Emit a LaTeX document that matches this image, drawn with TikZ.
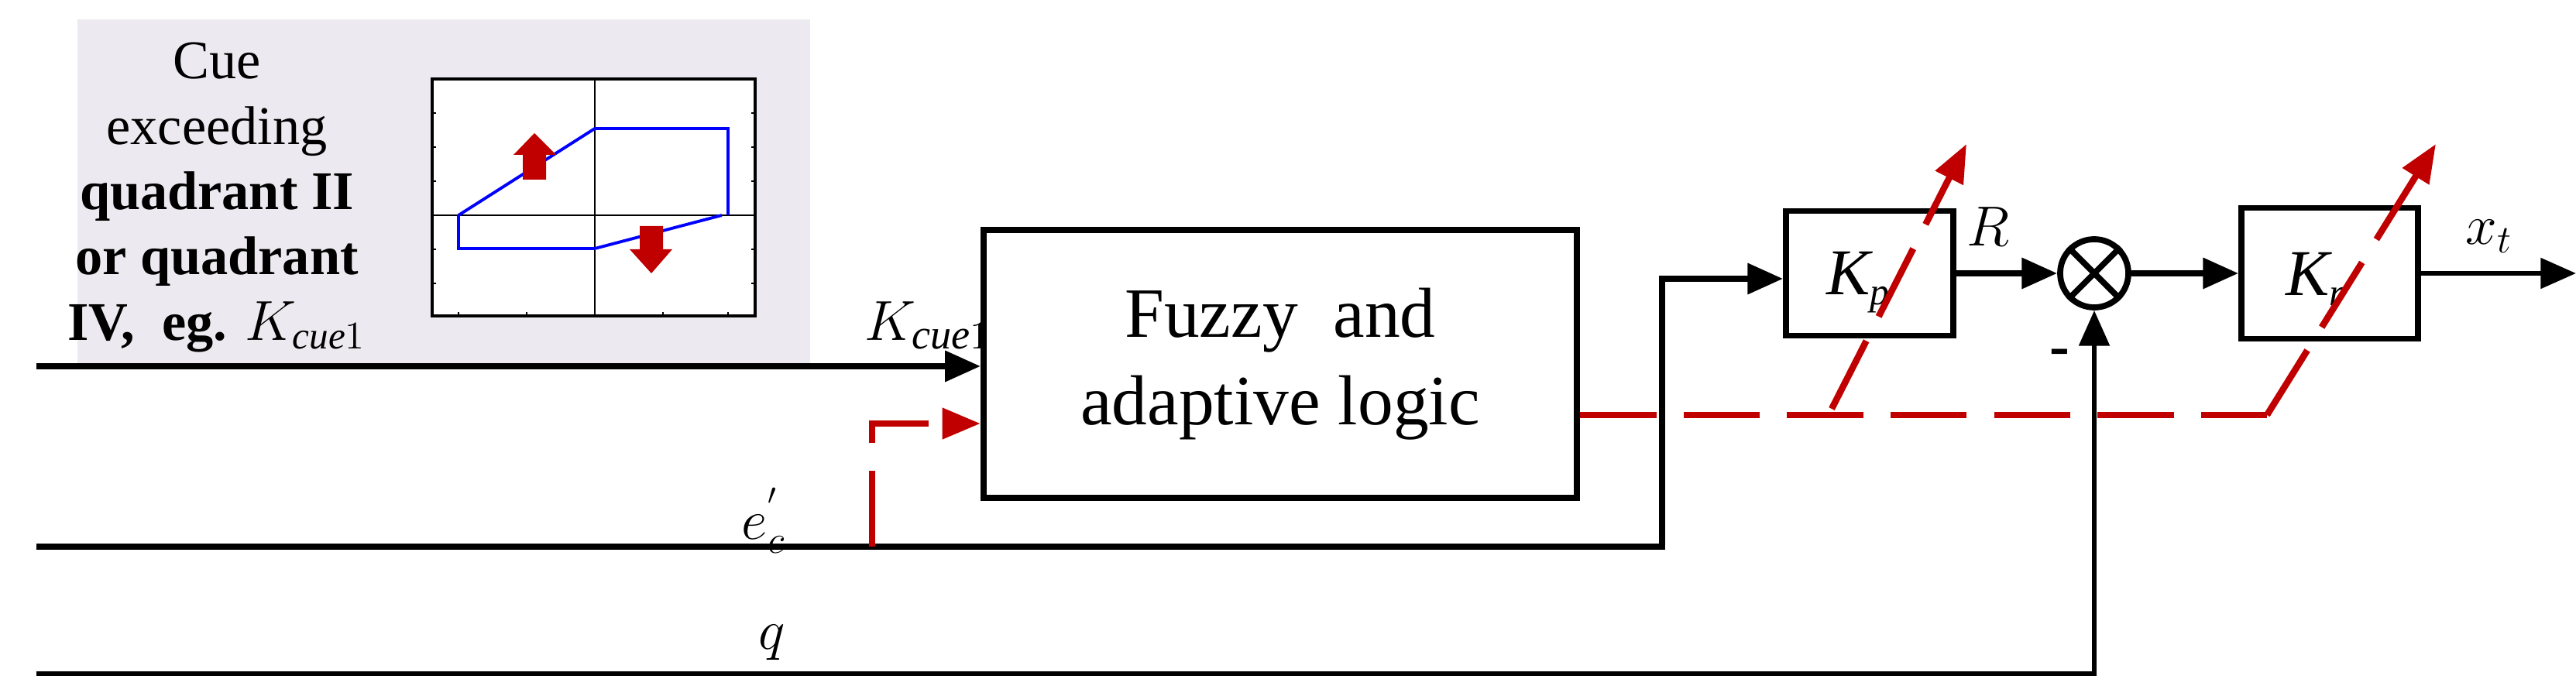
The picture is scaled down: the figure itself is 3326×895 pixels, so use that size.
\documentclass[tikz,border=0pt]{standalone}
\usepackage{fontspec}
\setmainfont{Liberation Serif}
\usetikzlibrary{arrows.meta}
\definecolor{dred}{RGB}{192,0,0}
\definecolor{bgray}{RGB}{236,234,240}
\begin{document}
\begin{tikzpicture}[x=0.01cm,y=-0.01cm,
  blk/.style={draw,line width=2.2pt,inner sep=0},
  sig/.style={line width=2.2pt,-{Triangle[length=13pt,width=11pt]}},
  red/.style={dred,line width=2.4pt,dash pattern=on 28pt off 10pt},
  redarr/.style={red,-{Triangle[length=14pt,width=11pt]}},
  lbl/.style={font=\fontsize{22}{26}\selectfont\itshape}]
\useasboundingbox (0,0) rectangle (3326,895);
% inset
\fill[bgray] (100,25) rectangle (1046,471);
\node[align=center,font=\fontsize{20}{24}\selectfont] (cue) at (280,255)
 {Cue\\exceeding\\\textbf{quadrant II}\\\textbf{or quadrant}\\\textbf{IV,\ \ eg.} $K_{\mathit{cue}1}$};
\fill[white] (558,102) rectangle (975,408);
\draw[line width=1pt] (558,102) rectangle (975,408);
\draw[line width=0.8pt] (768,102) -- (768,408) (558,278) -- (975,278);
\foreach \y in {102,146,190,234,278,322,366}{\draw (558,\y)--(563,\y) (975,\y)--(970,\y);}
\foreach \x in {592,680,768,856,940}{\draw (\x,408)--(\x,403);}
\draw[blue,line width=1.1pt] (592,278) -- (768,166) -- (940,166) -- (940,278);
\draw[blue,line width=1.1pt] (592,278) -- (592,321) -- (768,321) -- (932,278);
\fill[dred] (675,232) -- (675,200) -- (663,200) -- (690,172) -- (718,200) -- (705,200) -- (705,232) -- cycle;
\fill[dred] (826,292) -- (856,292) -- (856,322) -- (868,322) -- (841,353) -- (813,322) -- (826,322) -- cycle;
% blocks
\node[blk,minimum width=7.66cm,minimum height=3.46cm,font=\fontsize{26}{32}\selectfont,align=center] (fz) at (1653,470) {Fuzzy\ \ and\\adaptive logic};
\node[blk,minimum width=2.16cm,minimum height=1.61cm] (kp) at (2414,353) {};
\node[lbl,font=\fontsize{24}{28}\selectfont\itshape] at (2400,365) {K\textsubscript{\fontsize{14}{16}\selectfont p}};
\node[blk,minimum width=2.28cm,minimum height=1.69cm] (kr) at (3008,353) {};
\node[lbl,font=\fontsize{24}{28}\selectfont\itshape] at (2990,360) {K\textsubscript{\fontsize{14}{16}\selectfont r}};
\node[draw,circle,line width=2.2pt,minimum size=0.88cm,inner sep=0] (sum) at (2704,353) {};
\draw[line width=2.2pt] (sum.north west)--(sum.south east) (sum.north east)--(sum.south west);
% signals
\coordinate (a) at (47,473);
\draw[sig] (a) -- (fz.west |- a);
\node[lbl] at (1198,420) {$K_{\mathit{cue}1}$};
\coordinate (b) at (47,706);
\coordinate (b1) at (2146,706);
\draw[sig] (b) -- (b1) -- (2146,360) -- (kp.west |- 0,360);
\node[lbl] at (986,672) {$e_c^{'}$};
\coordinate (c) at (47,870);
\draw[sig,line width=1.8pt] (c) -- (sum.south |- c) -- (sum.south);
\node[lbl] at (997,830) {$q$};
\draw[sig] (kp.east |- sum) -- (sum.west);
\node[lbl] at (2567,293) {$R$};
\draw[sig] (sum.east) -- (kr.west);
\draw[sig,line width=1.8pt] (kr.east) -- (3326,353);
\node[lbl] at (3214,305) {$x_t$};
\node[font=\fontsize{22}{26}\selectfont\bfseries] at (2659,462) {-};
% red dashed
\draw[redarr] (1126,706) -- (1126,547) -- (fz.west |- 0,547);
\draw[red] (fz.east |- 0,536) -- (2927,536);
\draw[redarr] (2365,528) -- (2539,186);
\draw[redarr] (2927,536) -- (3145,186);
\end{tikzpicture}
\end{document}
